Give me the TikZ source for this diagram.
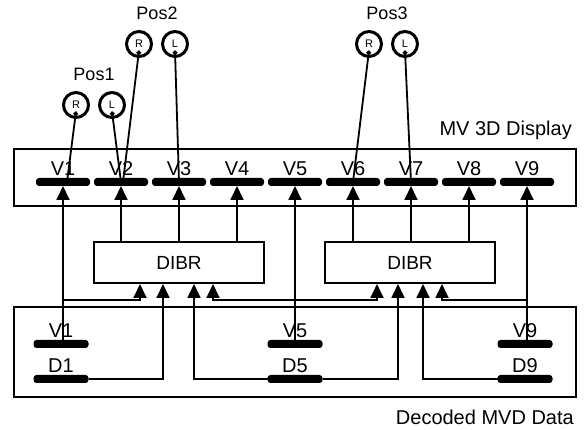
\documentclass[tikz,border=0pt]{standalone}
\usepackage{fontspec}
\setmainfont{Liberation Sans}
\usetikzlibrary{positioning,arrows.meta,calc}

\begin{document}
\begin{tikzpicture}[x=1pt, y=-1pt, >={Triangle[length=14pt,width=13pt]}, node distance=4pt, label distance=1.5pt,
          panel/.style={draw, line width=2pt, inner sep=0pt},
          proc/.style={draw, line width=2pt, minimum width=170pt, minimum height=41pt, font=\fontsize{19}{21}\selectfont},
          bar/.style={fill=black, rounded corners=3pt, minimum width=54pt, minimum height=8pt, inner sep=0pt, outer sep=0pt},
          tag/.style={font=\fontsize{20}{22}\selectfont, inner sep=1pt},
          postag/.style={font=\fontsize{18}{20}\selectfont, inner sep=1pt},
          eye/.style={circle, draw, line width=3pt, minimum size=25pt, inner sep=0pt, font=\fontsize{11}{11}\selectfont},
          feed/.style={->, line width=1.8pt},
          ray/.style={{Circle[length=4.5pt]}-, line width=1.8pt}]
        \useasboundingbox (0,0) rectangle (587,430);
        % display and decoded data panels
        \node[panel, minimum width=562pt, minimum height=57pt] (disp) at (295,177.5) {};
        \node[tag, above left=7pt and 4pt of disp.north east] (dispname) {MV 3D Display};
        \node[panel, minimum width=562pt, minimum height=90pt] (data) at (295,352) {};
        \node[tag, below left=11pt and 2pt of data.south east] (dataname) {Decoded MVD Data};
        % display views
        \node[bar, label={[tag]above:V1}] (s1) at (63,182) {};
        \node[bar, right=of s1, label={[tag]above:V2}] (s2) {};
        \node[bar, right=of s2, label={[tag]above:V3}] (s3) {};
        \node[bar, right=of s3, label={[tag]above:V4}] (s4) {};
        \node[bar, right=of s4, label={[tag]above:V5}] (s5) {};
        \node[bar, right=of s5, label={[tag]above:V6}] (s6) {};
        \node[bar, right=of s6, label={[tag]above:V7}] (s7) {};
        \node[bar, right=of s7, label={[tag]above:V8}] (s8) {};
        \node[bar, right=of s8, label={[tag]above:V9}] (s9) {};
        % decoded views and depths
        \node[bar, minimum width=55pt, label={[tag]above:V1}] (b1v) at (61,344) {};
        \node[bar, minimum width=55pt, label={[tag]above:D1}] (b1d) at (61,379) {};
        \node[bar, minimum width=55pt, label={[tag]above:V5}] (b5v) at (295,344) {};
        \node[bar, minimum width=55pt, label={[tag]above:D5}] (b5d) at (295,379) {};
        \node[bar, minimum width=55pt, label={[tag]above:V9}] (b9v) at (525,344) {};
        \node[bar, minimum width=55pt, label={[tag]above:D9}] (b9d) at (525,379) {};
        % renderers
        \node[proc] (dibrL) at (179,262.5) {DIBR};
        \node[proc] (dibrR) at (410,262.5) {DIBR};
        \coordinate (bus) at (0,300);
        \coordinate (iL1) at ($(dibrL.south)+(-39,0)$);
        \coordinate (iL2) at ($(dibrL.south)+(-16,0)$);
        \coordinate (iL3) at ($(dibrL.south)+(15,0)$);
        \coordinate (iL4) at ($(dibrL.south)+(34,0)$);
        \coordinate (iR1) at ($(dibrR.south)+(-33,0)$);
        \coordinate (iR2) at ($(dibrR.south)+(-12,0)$);
        \coordinate (iR3) at ($(dibrR.south)+(13,0)$);
        \coordinate (iR4) at ($(dibrR.south)+(32,0)$);
        % decoded views straight to the display
        \draw[feed] (s1 |- b1v) -- (s1.south);
        \draw[feed] (s5 |- b5v) -- (s5.south);
        \draw[feed] (s9 |- b9v) -- (s9.south);
        % rendered views
        \draw[feed] (dibrL.north -| s2) -- (s2.south);
        \draw[feed] (dibrL.north -| s3) -- (s3.south);
        \draw[feed] (dibrL.north -| s4) -- (s4.south);
        \draw[feed] (dibrR.north -| s6) -- (s6.south);
        \draw[feed] (dibrR.north -| s7) -- (s7.south);
        \draw[feed] (dibrR.north -| s8) -- (s8.south);
        % renderer inputs
        \draw[feed] (s1 |- bus) -| (iL1);
        \draw[feed] (b1d.east) -| (iL2);
        \draw[feed] (b5d.west) -| (iL3);
        \draw[feed] (s5 |- bus) -| (iL4);
        \draw[feed] (s5 |- bus) -| (iR1);
        \draw[feed] (b5d.east) -| (iR2);
        \draw[feed] (b9d.west) -| (iR3);
        \draw[feed] (s9 |- bus) -| (iR4);
        % viewer positions
        \node[eye] (p1r) at (76,105) {R};
        \node[eye, right=8pt of p1r] (p1l) {L};
        \node[eye] (p2r) at (139,44) {R};
        \node[eye, right=8pt of p2r] (p2l) {L};
        \node[eye] (p3r) at (369,44) {R};
        \node[eye, right=8pt of p3r] (p3l) {L};
        \path (p1r.north) -- (p1l.north) node[postag, midway, above=9pt] (pos1) {Pos1};
        \path (p2r.north) -- (p2l.north) node[postag, midway, above=9pt] (pos2) {Pos2};
        \path (p3r.north) -- (p3l.north) node[postag, midway, above=9pt] (pos3) {Pos3};
        \draw[ray] ([yshift=-6.5pt]p1r.center) -- ([xshift=4pt]s1.center);
        \draw[ray] ([yshift=-6.5pt]p1l.center) -- (s2.center);
        \draw[ray] ([yshift=-6.5pt]p2r.center) -- ([xshift=2pt]s2.center);
        \draw[ray] ([yshift=-6.5pt]p2l.center) -- (s3.center);
        \draw[ray] ([yshift=-6.5pt]p3r.center) -- (s6.center);
        \draw[ray] ([yshift=-6.5pt]p3l.center) -- (s7.center);
      \end{tikzpicture}
\end{document}
